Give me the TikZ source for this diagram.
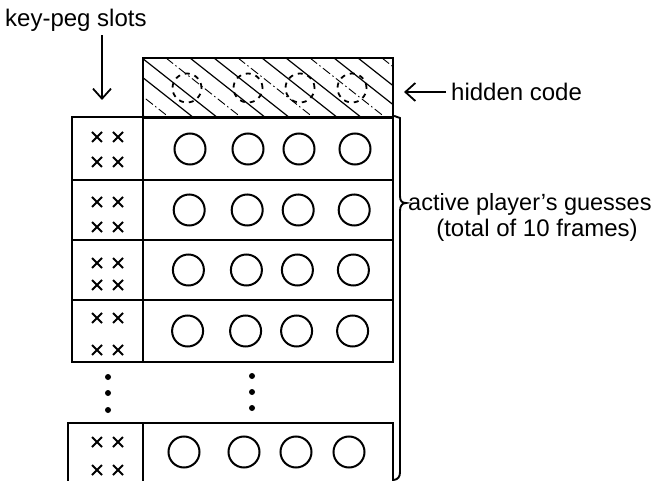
\documentclass[tikz,border=0pt]{standalone}
\usepackage{fontspec}
\setmainfont{Liberation Sans}
\usetikzlibrary{arrows.meta,shapes.misc}
\begin{document}
\begin{tikzpicture}[x=1pt,y=-1pt,
  box/.style={draw,line width=2.2pt,inner sep=0pt,rectangle},
  peg/.style={draw,circle,line width=2pt,minimum size=31pt,inner sep=0pt},
  hpeg/.style={draw,circle,line width=1.8pt,dash pattern=on 5pt off 5pt,minimum size=29pt,inner sep=0pt},
  kx/.style={cross out,draw,line width=2pt,minimum size=8pt,inner sep=0pt},
  dot/.style={circle,fill,minimum size=6pt,inner sep=0pt},
  lbl/.style={font=\fontsize{24}{28}\selectfont,inner sep=0pt},
  arr/.style={line width=1.8pt,-{Straight Barb[length=10pt,width=18pt,line width=1.8pt]}},
  hatch/.style={line width=1.2pt}]
\clip (0,0) rectangle (667,481);
% hidden code box
\node[box,minimum width=250pt,minimum height=60pt] (hc) at (268,88) {};
\begin{scope}
\clip (143,58) rectangle (393,118);
\foreach \i in {0,...,16}{
  \pgfmathtruncatemacro{\m}{mod(\i,3)}
  \ifnum\m=1
    \draw[hatch,line width=0.9pt,dash pattern=on 9pt off 3pt on 1.5pt off 3pt] (\i*24+70,58) -- ++(76,60);
  \else
    \draw[hatch] (\i*24+70,58) -- ++(76,60);
  \fi
}
\end{scope}
\foreach \x [count=\k] in {187,248,300,352}
  \node[hpeg] (h\k) at (\x,88) {};
% rows
\node[box,minimum width=71pt,minimum height=63pt] (kp1) at (107.5,148.5) {};
\node[box,minimum width=250pt,minimum height=63pt] (g1) at (268,148.5) {};
\node[box,minimum width=71pt,minimum height=60pt] (kp2) at (107.5,210) {};
\node[box,minimum width=250pt,minimum height=60pt] (g2) at (268,210) {};
\node[box,minimum width=71pt,minimum height=60pt] (kp3) at (107.5,270) {};
\node[box,minimum width=250pt,minimum height=60pt] (g3) at (268,270) {};
\node[box,minimum width=71pt,minimum height=62pt] (kp4) at (107.5,331) {};
\node[box,minimum width=250pt,minimum height=62pt] (g4) at (268,331) {};
\node[box,minimum width=75pt,minimum height=80pt] (kp5) at (105.5,463) {};
\node[box,minimum width=250pt,minimum height=80pt] (g5) at (268,463) {};
% guess pegs
\foreach \y/\r in {149/1,210/2,270/3,331/4}{
  \foreach \x [count=\k] in {190,248,299,355}
    \node[peg] (p\r\k) at (\x-\r*0.8+0.8,\y) {};
}
\foreach \x [count=\k] in {184,244,296,349}
  \node[peg] (p5\k) at (\x,452) {};
% key-peg crosses
\foreach \t/\a/\b/\r in {117/20/45/1,180/22/47/2,240/23/45/3,300/18/50/4,423/19/47/5}{
  \node[kx] (x\r a) at (97,\t+\a) {};
  \node[kx] (x\r b) at (118,\t+\a) {};
  \node[kx] (x\r c) at (97,\t+\b) {};
  \node[kx] (x\r d) at (118,\t+\b) {};
}
% continuation dots
\foreach \y [count=\k] in {377,393,410} \node[dot] (dl\k) at (108,\y) {};
\foreach \y [count=\k] in {376,392,408} \node[dot] (dm\k) at (252,\y) {};
% brace
\draw[line width=1.9pt] (g1.north east) -- (400,118) -- (400,196)
  .. controls (400,201) and (402,203) .. (406,203)
  .. controls (402,203) and (400,206) .. (400,211) -- (400,472)
  .. controls (400,477) and (398,479) .. (394,480);
% labels
\node[lbl,anchor=west] (kps) at (5,20) {key-peg slots};
\coordinate (ka) at (102,100);
\draw[arr] (kps.south -| ka) ++(0,4) -- (ka);
\node[lbl,anchor=west] (hct) at (451,92) {hidden code};
\coordinate (ha) at (404,92);
\draw[arr] (hct.west) ++(-5,0) -- (ha);
\node[lbl,anchor=west,font=\fontsize{23.5}{28}\selectfont] (apg) at (408,204) {active player’s guesses};
\node[lbl] (tot) at (537,230) {(total of 10 frames)};
\end{tikzpicture}
\end{document}
